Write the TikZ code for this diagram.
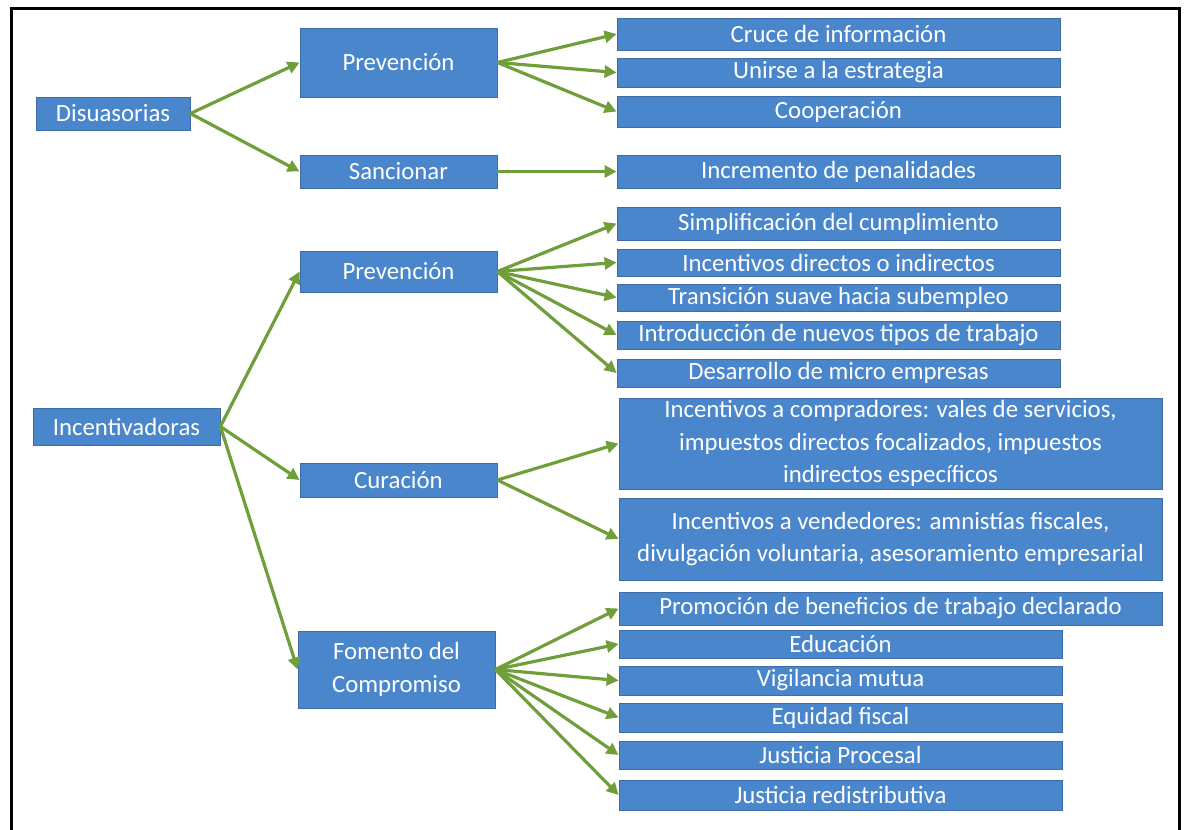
\documentclass[tikz,border=0pt]{standalone}
\usepackage{fontspec}
\setmainfont{Carlito}
\usetikzlibrary{arrows.meta, positioning}
\definecolor{boxblue}{RGB}{74,134,204}
\definecolor{boxedge}{RGB}{62,108,168}
\definecolor{arrgreen}{RGB}{112,158,58}
\tikzset{
    box/.style={rectangle, draw=boxedge, fill=boxblue, text=white, align=center,
        inner sep=0pt, font=\fontsize{12.4}{16.2}\selectfont},
    mid/.style={minimum width=98.5pt},
    wide/.style={minimum width=221.5pt},
    wider/.style={minimum width=271.5pt},
    every edge/.style={draw=arrgreen, line width=1.6pt, -{Triangle[length=6pt, width=6pt]}}
}

\begin{document}
\begin{tikzpicture}[x=0.5pt, y=-0.5pt]
        \useasboundingbox (0,0) rectangle (1184,830);
        \draw[line width=1.5pt] (11,830) -- (11,8.5) -- (1179,8.5) -- (1179,830);

        \node (dis) [box, minimum width=77pt, minimum height=16.5pt] at (113,113.5) {Disuasorias};
        \node (prev1) [box, mid, minimum height=34.5pt] at (398.5,62.5) {Prevención};
        \node (sanc) [box, mid, minimum height=16.5pt] at (398.5,171.5) {Sancionar};
        \node (cruce) [box, wide, minimum height=16pt] at (838.5,34) {Cruce de información};
        \node (unir) [box, wide, minimum height=14.5pt] at (838.5,72.5) {Unirse a la estrategia};
        \node (coop) [box, wide, minimum height=15.5pt] at (838.5,111.5) {Cooperación};
        \node (incr) [box, wide, minimum height=16.5pt] at (838.5,171.5) {Incremento de penalidades};

        \node (inc) [box, minimum width=93.5pt, minimum height=18.5pt] at (126.5,426.5) {Incentivadoras};
        \node (prev2) [box, mid, minimum height=20.5pt] at (398.5,271.5) {Prevención};
        \node (simp) [box, wide, minimum height=16.5pt] at (838.5,223.5) {Simplificación del cumplimiento};
        \node (indir) [box, wide, minimum height=13.5pt] at (838.5,262.5) {Incentivos directos o indirectos};
        \node (trans) [box, wide, minimum height=13.5pt] at (838.5,297.5) {Transición suave hacia subempleo};
        \node (intro) [box, wide, minimum height=14pt] at (838.5,335) {Introducción de nuevos tipos de trabajo};
        \node (micro) [box, wide, minimum height=14pt] at (838.5,373) {Desarrollo de micro empresas};

        \node (cur) [box, mid, minimum height=17pt] at (398.5,480) {Curación};
        \node (compr) [box, wider, minimum height=45.5pt] at (890.5,443.5) {Incentivos a compradores: vales de servicios,\\ impuestos directos focalizados, impuestos\\ indirectos específicos};
        \node (vend) [box, wider, minimum height=41pt] at (890.5,539) {Incentivos a vendedores: amnistías fiscales,\\ divulgación voluntaria, asesoramiento empresarial};

        \node (fom) [box, mid, minimum height=38.5pt] at (396.5,669.5) {Fomento del\\ Compromiso};
        \node (promo) [box, wider, minimum height=16.5pt] at (890.5,608.5) {Promoción de beneficios de trabajo declarado};
        \node (edu) [box, wide, minimum height=14pt] at (840.5,644) {Educación};
        \node (vig) [box, wide, minimum height=14.5pt] at (840.5,680.5) {Vigilancia mutua};
        \node (equi) [box, wide, minimum height=14.5pt] at (840.5,717.5) {Equidad fiscal};
        \node (jproc) [box, wide, minimum height=14pt] at (840.5,755) {Justicia Procesal};
        \node (jred) [box, wide, minimum height=15pt] at (840.5,795) {Justicia redistributiva};

        \draw
            (dis.east) edge (prev1.west)
            (dis.east) edge (sanc.west)
            (prev1.east) edge (cruce.west)
            (prev1.east) edge (unir.west)
            (prev1.east) edge (coop.west)
            (sanc.east) edge (incr.west)
            (inc.east) edge (prev2.west)
            (inc.east) edge (cur.west)
            (inc.east) edge (fom.west)
            (prev2.east) edge (simp.west)
            (prev2.east) edge (indir.west)
            (prev2.east) edge (trans.west)
            (prev2.east) edge (intro.west)
            (prev2.east) edge (micro.west)
            (cur.east) edge (compr.west)
            (cur.east) edge (vend.west)
            (fom.east) edge (promo.west)
            (fom.east) edge (edu.west)
            (fom.east) edge (vig.west)
            (fom.east) edge (equi.west)
            (fom.east) edge (jproc.west)
            (fom.east) edge (jred.west)
            ;
    \end{tikzpicture}
\end{document}
